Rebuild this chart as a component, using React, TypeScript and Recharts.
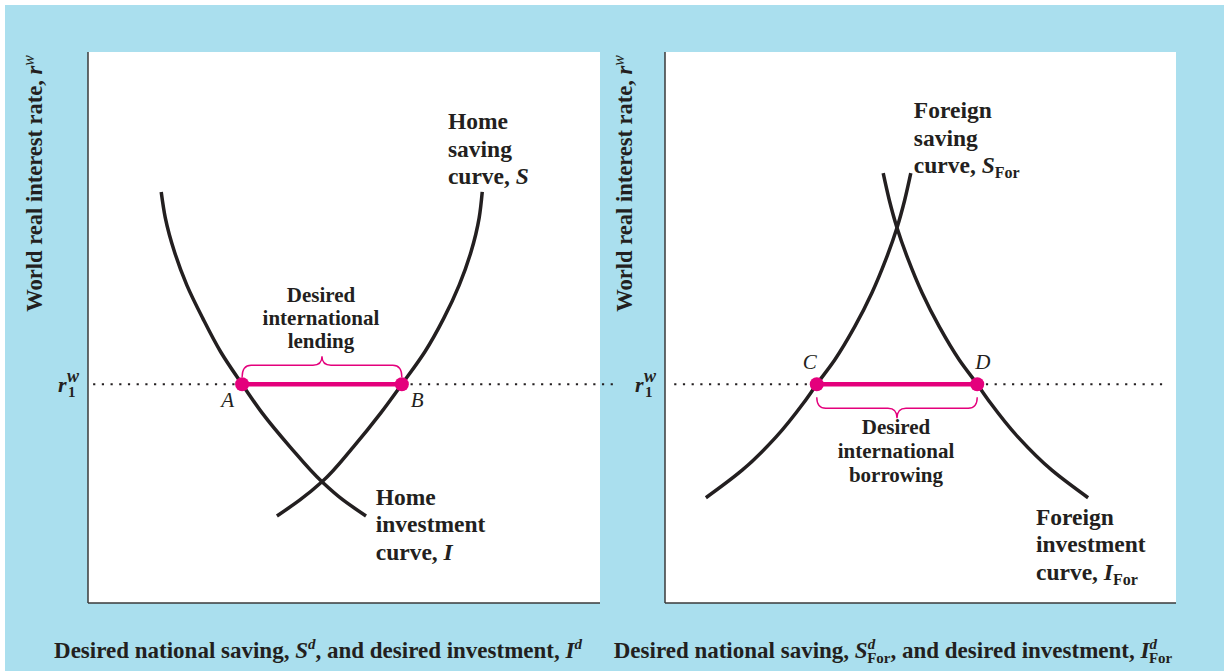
import React from "react";
import {
  LineChart,
  Line,
  XAxis,
  YAxis,
  CartesianGrid,
  ReferenceLine,
  ReferenceDot,
  Label,
} from "recharts";

// both panels use a 0..100 scale; q = desired saving / investment, r = world real rate
const rWorld = 39.7;

// home country (left panel), points listed from the bottom of each curve up
const homeInvestment = [
  { q: 54.3, r: 15.8 },
  { q: 49.8, r: 18.7 },
  { q: 45.7, r: 22.0 },
  { q: 39.5, r: 28.3 },
  { q: 34.0, r: 34.5 },
  { q: 30.1, r: 39.7 },
  { q: 25.9, r: 45.6 },
  { q: 22.4, r: 51.7 },
  { q: 19.3, r: 57.7 },
  { q: 16.9, r: 63.7 },
  { q: 15.1, r: 69.9 },
  { q: 14.3, r: 74.6 },
];
const homeSaving = [
  { q: 36.9, r: 15.8 },
  { q: 41.4, r: 18.7 },
  { q: 45.7, r: 22.0 },
  { q: 51.8, r: 28.3 },
  { q: 57.2, r: 34.5 },
  { q: 61.3, r: 39.7 },
  { q: 65.8, r: 45.6 },
  { q: 69.5, r: 51.7 },
  { q: 72.5, r: 57.7 },
  { q: 74.8, r: 63.7 },
  { q: 76.4, r: 69.9 },
  { q: 77.0, r: 74.6 },
];
// points A and B
const homeLending = [
  { q: 30.1, r: rWorld },
  { q: 61.3, r: rWorld },
];
const homeRateLine = [1.0, 103.1];

// foreign country (right panel)
const foreignSaving = [
  { q: 8.0, r: 19.1 },
  { q: 15.1, r: 24.1 },
  { q: 21.7, r: 30.1 },
  { q: 27.1, r: 36.3 },
  { q: 29.7, r: 39.7 },
  { q: 33.2, r: 44.1 },
  { q: 37.1, r: 50.1 },
  { q: 40.5, r: 56.3 },
  { q: 43.2, r: 62.3 },
  { q: 45.4, r: 68.1 },
  { q: 46.9, r: 73.1 },
  { q: 48.1, r: 78.0 },
];
const foreignInvestment = [
  { q: 82.8, r: 19.1 },
  { q: 75.7, r: 24.1 },
  { q: 69.1, r: 30.1 },
  { q: 63.7, r: 36.3 },
  { q: 61.1, r: 39.7 },
  { q: 57.6, r: 44.1 },
  { q: 53.7, r: 50.1 },
  { q: 50.3, r: 56.3 },
  { q: 47.6, r: 62.3 },
  { q: 45.4, r: 68.1 },
  { q: 43.9, r: 73.1 },
  { q: 42.7, r: 78.0 },
];
// points C and D
const foreignBorrowing = [
  { q: 29.7, r: rWorld },
  { q: 61.1, r: rWorld },
];
const foreignRateLine = [1.8, 97.8];

const FONT = "'Liberation Serif', 'Times New Roman', serif";
const INK = "#231f20";
const PINK = "#e4007c";
const BLUE = "#aadfee";
const AXIS = "#3a3a3a";

const It = ({ children }: any) => <tspan fontStyle="italic">{children}</tspan>;

function TextBlock({ x, y, lines, anchor = "start", size, lh }: any) {
  return (
    <text
      x={x}
      y={y}
      textAnchor={anchor}
      fontFamily={FONT}
      fontWeight="bold"
      fontSize={size}
      fill={INK}
    >
      {lines.map((ln: any, i: number) => (
        <tspan key={i} x={x} dy={i === 0 ? 0 : lh}>
          {ln}
        </tspan>
      ))}
    </text>
  );
}

function PointLetter({ x, y, anchor, text }: any) {
  return (
    <text
      x={x}
      y={y}
      textAnchor={anchor}
      fontFamily={FONT}
      fontStyle="italic"
      fontSize={21}
      fill={INK}
    >
      {text}
    </text>
  );
}

// curly brace drawn over the A-B / C-D segment, offsets in px
function Brace({ x1, y1, x2, base, level, tip }: any) {
  const a = Math.min(x1, x2);
  const b = Math.max(x1, x2);
  const m = (a + b) / 2;
  const yb = y1 + base;
  const yh = y1 + level;
  const yt = y1 + tip;
  const k = 9;
  const d =
    `M${a},${yb} Q${a},${yh} ${a + k},${yh} L${m - k},${yh} Q${m},${yh} ${m},${yt} ` +
    `Q${m},${yh} ${m + k},${yh} L${b - k},${yh} Q${b},${yh} ${b},${yb}`;
  return <path d={d} fill="none" stroke={PINK} strokeWidth={1.4} />;
}

function RTick({ x, y }: any) {
  return (
    <g fontFamily={FONT} fontWeight="bold" fill={INK}>
      <text x={x - 30} y={y + 8} fontStyle="italic" fontSize={22}>
        r
      </text>
      <text x={x - 21} y={y - 2} fontStyle="italic" fontSize={18}>
        w
      </text>
      <text x={x - 20} y={y + 13} fontSize={15}>
        1
      </text>
    </g>
  );
}

function YTitle({ viewBox, gap }: any) {
  const tx = viewBox.x + viewBox.width - gap;
  const ty = viewBox.y + 3;
  return (
    <text
      x={tx}
      y={ty}
      transform={`rotate(-90 ${tx} ${ty})`}
      textAnchor="end"
      fontFamily={FONT}
      fontWeight="bold"
      fontSize={22.5}
      fill={INK}
    >
      World real interest rate, <It>r</It>
      <tspan fontStyle="italic" fontWeight="normal" fontSize={16} dy={-8}>
        w
      </tspan>
    </text>
  );
}

function XTitle({ viewBox, dx, children }: any) {
  return (
    <text
      x={viewBox.x + dx}
      y={viewBox.y + 55}
      textAnchor="middle"
      fontFamily={FONT}
      fontWeight="bold"
      fontSize={23}
      fill={INK}
    >
      {children}
    </text>
  );
}

const homeXTitle = (
  <>
    Desired national saving, <It>S</It>
    <tspan fontStyle="italic" fontSize={15} dy={-9}>
      d
    </tspan>
    <tspan dy={9}>, and desired investment, </tspan>
    <It>I</It>
    <tspan fontStyle="italic" fontSize={15} dy={-9}>
      d
    </tspan>
  </>
);

const foreignXTitle = (
  <>
    Desired national saving, <It>S</It>
    <tspan fontStyle="italic" fontSize={15} dy={-9}>
      d
    </tspan>
    <tspan fontSize={15} dx={-8} dy={14}>
      For
    </tspan>
    <tspan dy={-5}>, and desired investment, </tspan>
    <It>I</It>
    <tspan fontStyle="italic" fontSize={15} dy={-9}>
      d
    </tspan>
    <tspan fontSize={15} dx={-8} dy={14}>
      For
    </tspan>
  </>
);

const curveStyle = {
  stroke: INK,
  strokeWidth: 3.5,
  dot: false,
  activeDot: false,
  isAnimationActive: false,
  type: "monotoneY" as const,
};

function HomePanel() {
  const [pA, pB] = homeLending;
  return (
    <LineChart width={620} height={671} margin={{ top: 52, right: 20, bottom: 0, left: 0 }}>
      <CartesianGrid horizontal={false} vertical={false} fill="#ffffff" />
      <XAxis
        type="number"
        dataKey="q"
        domain={[0, 100]}
        tick={false}
        tickLine={false}
        height={68}
        axisLine={{ stroke: AXIS, strokeWidth: 1.5 }}
      >
        <Label content={(p: any) => <XTitle viewBox={p.viewBox} dx={230}>{homeXTitle}</XTitle>} />
      </XAxis>
      <YAxis
        type="number"
        dataKey="r"
        domain={[0, 100]}
        ticks={[rWorld]}
        tick={(p: any) => <RTick {...p} />}
        tickLine={false}
        tickSize={0}
        tickMargin={0}
        width={88}
        axisLine={{ stroke: AXIS, strokeWidth: 1.5 }}
      >
        <Label content={(p: any) => <YTitle viewBox={p.viewBox} gap={46} />} />
      </YAxis>
      <ReferenceLine
        segment={[{ x: homeRateLine[0], y: rWorld }, { x: pA.q, y: rWorld }]}
        ifOverflow="visible"
        stroke={INK}
        strokeWidth={2.2}
        strokeDasharray="2.2 6.5"
      />
      <ReferenceLine
        segment={[{ x: pB.q, y: rWorld }, { x: homeRateLine[1], y: rWorld }]}
        ifOverflow="visible"
        stroke={INK}
        strokeWidth={2.2}
        strokeDasharray="2.2 6.5"
      />
      <ReferenceLine
        segment={[{ x: pA.q, y: rWorld }, { x: pB.q, y: rWorld }]}
        ifOverflow="visible"
        shape={(p: any) => <Brace {...p} base={-7} level={-19} tip={-28} />}
      />
      <Line data={homeInvestment} dataKey="r" {...curveStyle} />
      <Line data={homeSaving} dataKey="r" {...curveStyle} />
      <Line
        data={homeLending}
        dataKey="r"
        type="linear"
        stroke={PINK}
        strokeWidth={4.5}
        dot={{ r: 7, fill: PINK, stroke: PINK, strokeWidth: 0 }}
        activeDot={false}
        isAnimationActive={false}
      />
      <ReferenceDot
        x={pA.q}
        y={rWorld}
        ifOverflow="visible"
        shape={(p: any) => <PointLetter x={p.cx - 8} y={p.cy + 23} anchor="end" text="A" />}
      />
      <ReferenceDot
        x={pB.q}
        y={rWorld}
        ifOverflow="visible"
        shape={(p: any) => <PointLetter x={p.cx + 9} y={p.cy + 23} anchor="start" text="B" />}
      />
      <ReferenceDot
        x={70.3}
        y={86.0}
        ifOverflow="visible"
        shape={(p: any) => (
          <TextBlock
            x={p.cx}
            y={p.cy}
            size={23.5}
            lh={27.5}
            lines={["Home", "saving", <>curve, <It>S</It></>]}
          />
        )}
      />
      <ReferenceDot
        x={56.2}
        y={17.8}
        ifOverflow="visible"
        shape={(p: any) => (
          <TextBlock
            x={p.cx}
            y={p.cy}
            size={23.5}
            lh={27.5}
            lines={["Home", "investment", <>curve, <It>I</It></>]}
          />
        )}
      />
      <ReferenceDot
        x={45.5}
        y={54.6}
        ifOverflow="visible"
        shape={(p: any) => (
          <TextBlock
            x={p.cx}
            y={p.cy}
            anchor="middle"
            size={21}
            lh={23}
            lines={["Desired", "international", "lending"]}
          />
        )}
      />
    </LineChart>
  );
}

function ForeignPanel() {
  const [pC, pD] = foreignBorrowing;
  return (
    <LineChart width={624} height={671} margin={{ top: 52, right: 48, bottom: 0, left: 0 }}>
      <CartesianGrid horizontal={false} vertical={false} fill="#ffffff" />
      <XAxis
        type="number"
        dataKey="q"
        domain={[0, 100]}
        tick={false}
        tickLine={false}
        height={68}
        axisLine={{ stroke: AXIS, strokeWidth: 1.5 }}
      >
        <Label content={(p: any) => <XTitle viewBox={p.viewBox} dx={228}>{foreignXTitle}</XTitle>} />
      </XAxis>
      <YAxis
        type="number"
        dataKey="r"
        domain={[0, 100]}
        ticks={[rWorld]}
        tick={(p: any) => <RTick {...p} />}
        tickLine={false}
        tickSize={0}
        tickMargin={0}
        width={65}
        axisLine={{ stroke: AXIS, strokeWidth: 1.5 }}
      >
        <Label content={(p: any) => <YTitle viewBox={p.viewBox} gap={33} />} />
      </YAxis>
      <ReferenceLine
        segment={[{ x: foreignRateLine[0], y: rWorld }, { x: pC.q, y: rWorld }]}
        ifOverflow="visible"
        stroke={INK}
        strokeWidth={2.2}
        strokeDasharray="2.2 6.5"
      />
      <ReferenceLine
        segment={[{ x: pD.q, y: rWorld }, { x: foreignRateLine[1], y: rWorld }]}
        ifOverflow="visible"
        stroke={INK}
        strokeWidth={2.2}
        strokeDasharray="2.2 6.5"
      />
      <ReferenceLine
        segment={[{ x: pC.q, y: rWorld }, { x: pD.q, y: rWorld }]}
        ifOverflow="visible"
        shape={(p: any) => <Brace {...p} base={13} level={24} tip={34} />}
      />
      <Line data={foreignSaving} dataKey="r" {...curveStyle} />
      <Line data={foreignInvestment} dataKey="r" {...curveStyle} />
      <Line
        data={foreignBorrowing}
        dataKey="r"
        type="linear"
        stroke={PINK}
        strokeWidth={4.5}
        dot={{ r: 7, fill: PINK, stroke: PINK, strokeWidth: 0 }}
        activeDot={false}
        isAnimationActive={false}
      />
      <ReferenceDot
        x={pC.q}
        y={rWorld}
        ifOverflow="visible"
        shape={(p: any) => <PointLetter x={p.cx} y={p.cy - 15} anchor="end" text="C" />}
      />
      <ReferenceDot
        x={pD.q}
        y={rWorld}
        ifOverflow="visible"
        shape={(p: any) => <PointLetter x={p.cx - 2} y={p.cy - 15} anchor="start" text="D" />}
      />
      <ReferenceDot
        x={48.7}
        y={88.0}
        ifOverflow="visible"
        shape={(p: any) => (
          <TextBlock
            x={p.cx}
            y={p.cy}
            size={23.5}
            lh={27.5}
            lines={[
              "Foreign",
              "saving",
              <>
                curve, <It>S</It>
                <tspan fontSize={16} dy={5}>
                  For
                </tspan>
              </>,
            ]}
          />
        )}
      />
      <ReferenceDot
        x={72.6}
        y={14.2}
        ifOverflow="visible"
        shape={(p: any) => (
          <TextBlock
            x={p.cx}
            y={p.cy}
            size={23.5}
            lh={27.5}
            lines={[
              "Foreign",
              "investment",
              <>
                curve, <It>I</It>
                <tspan fontSize={16} dy={5}>
                  For
                </tspan>
              </>,
            ]}
          />
        )}
      />
      <ReferenceDot
        x={45.2}
        y={30.7}
        ifOverflow="visible"
        shape={(p: any) => (
          <TextBlock
            x={p.cx}
            y={p.cy}
            anchor="middle"
            size={21}
            lh={24}
            lines={["Desired", "international", "borrowing"]}
          />
        )}
      />
    </LineChart>
  );
}

export default function App() {
  return (
    <div
      style={{
        position: "absolute",
        left: 0,
        top: 0,
        width: 1224,
        height: 671,
        background: "#ffffff",
        overflow: "hidden",
      }}
    >
      <div
        style={{
          position: "absolute",
          left: 5,
          top: 5,
          width: 1219,
          height: 666,
          background: BLUE,
        }}
      />
      <div style={{ position: "absolute", left: 0, top: 0 }}>
        <HomePanel />
      </div>
      <div style={{ position: "absolute", left: 600, top: 0 }}>
        <ForeignPanel />
      </div>
    </div>
  );
}
